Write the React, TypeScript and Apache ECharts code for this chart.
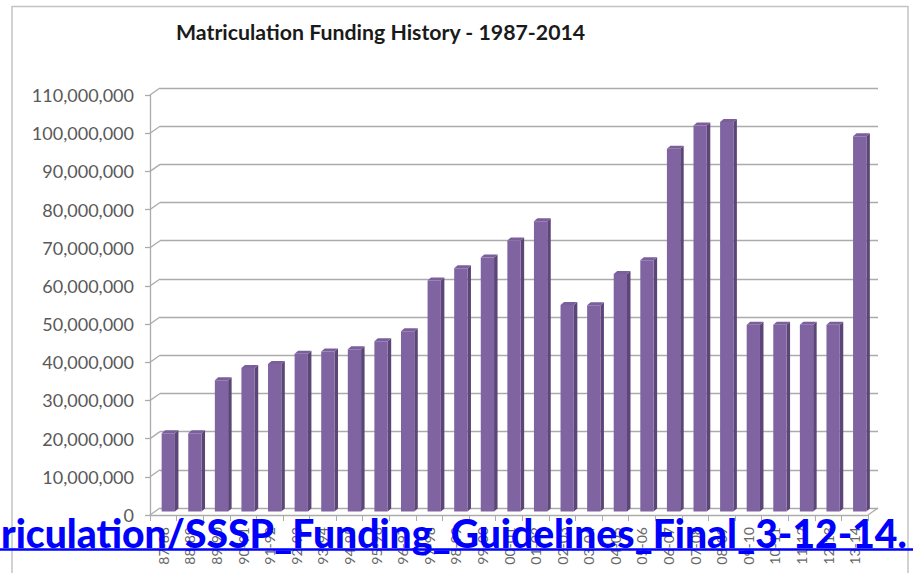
import React, { useEffect, useRef } from 'react';
import * as echarts from 'echarts';

const categories = [
  '87-88', '88-89', '89-90', '90-91', '91-92', '92-93', '93-94', '94-95', '95-96',
  '96-97', '97-98', '98-99', '99-00', '00-01', '01-02', '02-03', '03-04', '04-05',
  '05-06', '06-07', '07-08', '08-09', '09-10', '10-11', '11-12', '12-13', '13-14',
];
const funding = [
  20500000, 20500000, 34400000, 37600000, 38600000, 41300000, 41900000, 42500000, 44600000,
  47200000, 60500000, 63700000, 66500000, 71000000, 76000000, 54100000, 54000000, 62200000,
  65800000, 95000000, 101100000, 102000000, 48900000, 48900000, 48900000, 48900000, 98300000,
];
const yTicks = [
  0, 10000000, 20000000, 30000000, 40000000, 50000000, 60000000,
  70000000, 80000000, 90000000, 100000000, 110000000,
];
const titleText = 'Matriculation Funding History - 1987-2014';
const linkText = 'riculation/SSSP_Funding_Guidelines_Final_3-12-14.';

function fitFontSize(text: string, font: string, weight: string, target: number) {
  const ctx = document.createElement('canvas').getContext('2d');
  if (!ctx) return 34;
  ctx.font = `${weight} 100px ${font}`;
  const w = ctx.measureText(text).width;
  return (100 * target) / w;
}

export default function App() {
  const ref = useRef<HTMLDivElement>(null);
  useEffect(() => {
    document.body.style.margin = '0';
    if (!ref.current) return;
    const chart = echarts.init(ref.current, undefined, { renderer: 'svg' });
    const gridColor = '#ababab';
    const front = '#8064a2';
    const side = '#5b4677';
    const topc = '#7a5f9c';
    const depthX = 10;
    const depthY = -7;
    const linkWeight = '900';
    const linkSize = fitFontSize(linkText, 'Lato', linkWeight, 906);
    const titleSize = fitFontSize(titleText, 'Lato', 'bold', 410);

    const yMax = yTicks[yTicks.length - 1];
    const yInt = yTicks[1] - yTicks[0];

    chart.setOption({
      animation: false,
      title: {
        text: titleText,
        left: 176,
        top: 21,
        padding: 0,
        textStyle: { fontFamily: 'Lato', fontWeight: 'bold', fontSize: titleSize, color: '#1a1a1a' },
      },
      grid: [
        { left: 150, top: 95, width: 718, height: 420 },
        { left: 160, top: 88, width: 718, height: 420 },
        { left: 155, top: 91.5, width: 718, height: 420 },
      ],
      xAxis: [
        {
          type: 'category', gridIndex: 0, data: categories,
          axisLine: { show: true, lineStyle: { color: gridColor, width: 1.3 } },
          axisTick: { show: true, length: 6, lineStyle: { color: gridColor } },
          axisLabel: {
            rotate: 90, interval: 0, margin: 12, fontFamily: 'Lato', fontSize: 14, color: '#666666',
          },
        },
        { type: 'category', gridIndex: 1, data: categories, show: false },
        { type: 'category', gridIndex: 2, data: categories, show: false },
      ],
      yAxis: [
        {
          type: 'value', gridIndex: 0, min: 0, max: yMax, interval: yInt,
          axisLine: { show: true, lineStyle: { color: gridColor, width: 1.3 } },
          axisTick: { show: true, length: 5, lineStyle: { color: gridColor, width: 1.3 } },
          splitLine: { show: false },
          axisLabel: {
            margin: 16, fontFamily: 'Lato', fontSize: 18, color: '#595959',
            formatter: (v: number) => Number(v).toLocaleString('en-US'),
          },
        },
        {
          type: 'value', gridIndex: 1, min: 0, max: yMax, interval: yInt,
          axisLine: { show: false }, axisTick: { show: false }, axisLabel: { show: false },
          splitLine: { show: true, lineStyle: { color: gridColor, width: 1.3 } },
        },
        {
          type: 'value', gridIndex: 2, min: 0, max: yMax, interval: yInt,
          show: false, splitLine: { show: false },
        },
      ],
      series: [
        {
          type: 'custom',
          xAxisIndex: 0,
          yAxisIndex: 0,
          data: yTicks.map((v) => [0, v]),
          encode: { x: 0, y: 1 },
          silent: true,
          renderItem: (params: any, api: any) => {
            const v = api.value(1);
            const p = api.coord([0, v]);
            const band = api.size([1, 0])[0];
            const left = p[0] - band / 2;
            const children: any[] = [
              {
                type: 'line',
                shape: { x1: left, y1: p[1], x2: left + depthX, y2: p[1] + depthY },
                style: { stroke: gridColor, lineWidth: 1.3 },
              },
            ];
            if (v === 0) {
              const r = api.coord([categories.length - 1, 0])[0] + band / 2;
              children.push({
                type: 'line',
                shape: { x1: r, y1: p[1], x2: r + depthX, y2: p[1] + depthY },
                style: { stroke: gridColor, lineWidth: 1.3 },
              });
            }
            return { type: 'group', children };
          },
        },
        {
          type: 'custom',
          xAxisIndex: 2,
          yAxisIndex: 2,
          data: funding.map((v, i) => [i, v]),
          encode: { x: 0, y: 1 },
          renderItem: (params: any, api: any) => {
            const idx = api.value(0);
            const val = api.value(1);
            const t = api.coord([idx, val]);
            const b = api.coord([idx, 0]);
            const band = api.size([1, 0])[0];
            const w = band * 0.5;
            const x0 = t[0] - w / 2;
            const x1 = t[0] + w / 2;
            const dx = 3.5;
            const dy = -3;
            return {
              type: 'group',
              children: [
                {
                  type: 'polygon',
                  shape: { points: [[x1, t[1]], [x1 + dx, t[1] + dy], [x1 + dx, b[1] + dy], [x1, b[1]]] },
                  style: { fill: side },
                },
                {
                  type: 'polygon',
                  shape: { points: [[x0, t[1]], [x0 + dx, t[1] + dy], [x1 + dx, t[1] + dy], [x1, t[1]]] },
                  style: { fill: topc },
                },
                {
                  type: 'rect',
                  shape: { x: x0, y: t[1], width: w, height: b[1] - t[1] },
                  style: { fill: front },
                },
              ],
            };
          },
        },
      ],
      graphic: [
        {
          type: 'rect',
          silent: true,
          z: -10,
          shape: { x: 12, y: 6.5, width: 896, height: 620 },
          style: { fill: 'none', stroke: '#c4c4c4', lineWidth: 1.5 },
        },
        {
          type: 'text',
          z: 100,
          x: 1,
          y: 533,
          style: {
            text: linkText,
            fill: '#0000ff',
            font: `${linkWeight} ${linkSize.toFixed(1)}px Lato`,
            textAlign: 'left',
            textVerticalAlign: 'middle',
          },
        },
        {
          type: 'line',
          z: 100,
          shape: { x1: 0, y1: 549.5, x2: 913, y2: 549.5 },
          style: { stroke: '#0000ff', lineWidth: 2.4 },
        },
      ],
    });
    return () => chart.dispose();
  }, []);
  return <div ref={ref} style={{ position: 'absolute', left: 0, top: 0, width: 913, height: 573 }} />;
}
